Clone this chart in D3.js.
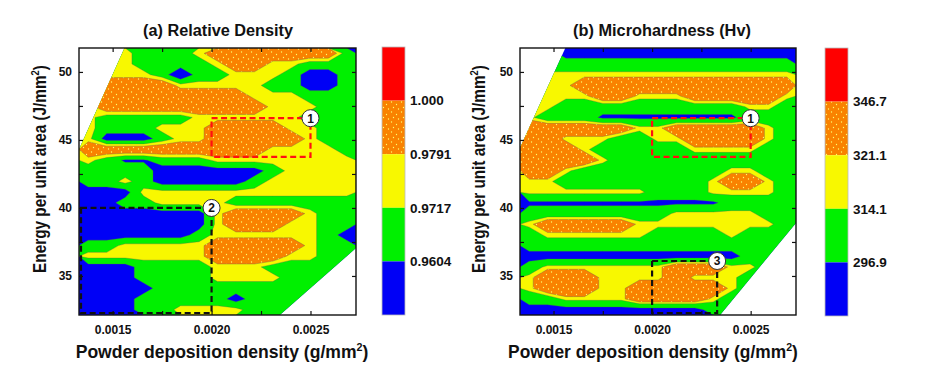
<!DOCTYPE html>
<html><head><meta charset="utf-8">
<script src="https://cdn.jsdelivr.net/npm/d3@7"></script>
<style>
body{margin:0;background:#fff}
text{font-family:"Liberation Sans",Arial,sans-serif;font-weight:bold;fill:#111}
</style>
</head><body>
<svg id="chart" width="933" height="374"></svg>
<script>
// ---------- data ----------
const xDomain = [0.00133, 0.00273];          // powder deposition density (g/mm2)
const yDomain = [32.13, 51.76];              // energy per unit area (J/mm2)
const xTickValues = [0.0015, 0.00175, 0.0020, 0.00225, 0.0025];
const xTickLabels = [0.0015, 0.0020, 0.0025];
const yTickValues = [35, 37.5, 40, 42.5, 45, 47.5, 50];
const yTickLabels = [35, 40, 45, 50];
// measured-region outlines (data coordinates)
const densityHullX = [0.00156, 0.00273, 0.00273, 0.002345, 0.00133, 0.00133];
const densityHullY = [51.76, 51.76, 37.05, 32.13, 32.13, 44.3];
const hardnessHullX = [0.00156, 0.00273, 0.00273, 0.002345, 0.00133, 0.00133];
const hardnessHullY = [51.76, 51.76, 38.9, 32.13, 32.13, 44.4];

const densityLevels = [0.9604, 0.9717, 0.9791, 1.000];
const densityLabels = ["1.000", "0.9791", "0.9717", "0.9604"];
const hardnessLevels = [296.9, 314.1, 321.1, 346.7];
const hardnessLabels = ["346.7", "321.1", "314.1", "296.9"];

// relative density grid, rows from top (high energy) to bottom, columns left to right
const densityGrid = [
[0.975,0.975,0.975,0.966,0.966,0.966,0.975,0.99,0.99,0.99,0.99,0.99,0.99,0.99,0.966],
[0.975,0.975,0.975,0.966,0.966,0.966,0.966,0.975,0.99,0.99,0.975,0.975,0.966,0.966,0.966],
[0.975,0.975,0.975,0.975,0.966,0.950,0.966,0.966,0.975,0.975,0.975,0.966,0.955,0.955,0.966],
[0.975,0.99,0.99,0.99,0.99,0.975,0.975,0.975,0.975,0.975,0.966,0.966,0.955,0.955,0.966],
[0.975,0.99,0.99,0.99,0.99,0.99,0.99,0.99,0.99,0.975,0.975,0.975,0.966,0.966,0.966],
[0.975,0.99,0.99,0.99,0.99,0.99,0.99,0.99,0.99,0.99,0.975,0.975,0.975,0.966,0.966],
[0.975,0.966,0.966,0.966,0.966,0.966,0.975,0.975,0.975,0.975,0.975,0.975,0.966,0.966,0.966],
[0.975,0.966,0.966,0.966,0.975,0.975,0.975,0.99,0.99,0.99,0.99,0.975,0.975,0.966,0.966],
[0.975,0.955,0.955,0.955,0.966,0.975,0.975,0.99,0.99,0.99,0.99,0.99,0.975,0.966,0.966],
[0.99,0.99,0.99,0.99,0.99,0.99,0.99,0.99,0.99,0.99,0.975,0.975,0.975,0.975,0.966],
[0.975,0.966,0.959,0.959,0.966,0.966,0.966,0.975,0.975,0.975,0.975,0.975,0.975,0.975,0.975],
[0.966,0.966,0.966,0.966,0.955,0.955,0.955,0.955,0.955,0.955,0.966,0.975,0.975,0.975,0.975],
[0.966,0.966,0.975,0.966,0.955,0.955,0.955,0.955,0.955,0.966,0.975,0.975,0.975,0.975,0.975],
[0.955,0.955,0.955,0.975,0.975,0.975,0.975,0.975,0.975,0.975,0.975,0.975,0.975,0.975,0.975],
[0.955,0.955,0.966,0.966,0.975,0.975,0.975,0.975,0.966,0.966,0.966,0.966,0.966,0.966,0.966],
[0.955,0.955,0.955,0.955,0.955,0.955,0.955,0.975,0.99,0.99,0.99,0.99,0.975,0.966,0.966],
[0.955,0.955,0.955,0.955,0.955,0.955,0.955,0.975,0.99,0.99,0.99,0.975,0.975,0.966,0.966],
[0.955,0.955,0.955,0.955,0.955,0.955,0.966,0.975,0.975,0.975,0.975,0.975,0.975,0.966,0.955],
[0.966,0.966,0.975,0.975,0.975,0.975,0.975,0.99,0.99,0.99,0.99,0.99,0.975,0.966,0.966],
[0.975,0.975,0.975,0.975,0.975,0.975,0.975,0.99,0.99,0.99,0.99,0.975,0.975,0.966,0.966],
[0.955,0.955,0.955,0.966,0.966,0.966,0.966,0.975,0.975,0.975,0.966,0.966,0.966,0.966,0.966],
[0.955,0.955,0.955,0.966,0.966,0.966,0.966,0.975,0.975,0.975,0.975,0.966,0.966,0.966,0.966],
[0.955,0.955,0.955,0.955,0.966,0.966,0.966,0.966,0.966,0.966,0.966,0.966,0.966,0.966,0.966],
[0.955,0.955,0.955,0.966,0.966,0.966,0.966,0.966,0.955,0.966,0.966,0.966,0.966,0.966,0.966],
[0.955,0.955,0.955,0.966,0.966,0.975,0.975,0.975,0.975,0.966,0.966,0.966,0.966,0.966,0.966]
];

// microhardness grid (Hv)
const hardnessGrid = [
[305,305,290,290,290,290,290,290,290,290,290,290,290,290,290],
[305,305,305,305,305,305,305,305,305,305,305,305,305,305,305],
[317.5,317.5,317.5,317.5,317.5,317.5,317.5,317.5,317.5,317.5,317.5,317.5,317.5,317.5,317.5],
[317.5,317.5,317.5,334,334,334,334,334,334,334,334,334,334,334,334],
[317.5,317.5,317.5,317.5,334,334,317.5,317.5,317.5,334,334,334,334,334,317.5],
[317.5,317.5,305,305,305,305,305,305,305,305,305,305,317.5,317.5,305],
[317.5,305,305,305,294,294,294,294,294,294,294,294,305,305,305],
[334,334,334,334,334,334,317.5,317.5,334,334,334,334,334,317.5,305],
[334,334,317.5,317.5,317.5,305,305,317.5,317.5,334,334,334,334,317.5,305],
[334,334,334,317.5,305,305,305,305,305,317.5,317.5,317.5,317.5,305,305],
[334,334,334,334,317.5,305,305,305,305,305,305,305,305,305,305],
[334,334,317.5,305,305,305,305,305,305,305,305,317.5,317.5,305,305],
[317.5,317.5,305,305,305,305,305,305,305,305,317.5,334,334,317.5,305],
[317.5,317.5,317.5,317.5,317.5,317.5,317.5,305,305,305,317.5,317.5,317.5,317.5,305],
[294,294,294,294,294,294,294,294,294,294,294,305,305,305,305],
[305,305,305,305,305,305,305,305,317.5,317.5,317.5,317.5,317.5,305,305],
[317.5,334,334,334,334,334,317.5,317.5,317.5,317.5,317.5,317.5,317.5,317.5,305],
[305,317.5,317.5,317.5,317.5,317.5,317.5,305,305,305,305,317.5,305,305,305],
[305,305,305,305,305,305,305,305,305,305,305,305,305,305,305],
[290,290,290,290,290,290,290,290,290,290,290,290,305,305,305],
[305,317.5,317.5,317.5,317.5,317.5,317.5,317.5,334,334,334,317.5,317.5,305,305],
[317.5,334,334,334,317.5,317.5,317.5,317.5,334,317.5,317.5,317.5,305,305,305],
[317.5,334,334,334,317.5,317.5,334,334,334,334,334,317.5,305,305,305],
[305,305,317.5,317.5,317.5,317.5,334,334,334,334,317.5,305,305,305,305],
[290,290,290,290,290,290,290,290,290,290,305,305,305,305,305]
];

// dashed regions of interest
const densityBoxes = [
  {x0: 0.0020, x1: 0.0025, y0: 43.75, y1: 46.6, color: "#ff1010", label: "1"},
  {x0: 0.00133, x1: 0.0020, y0: 32.13, y1: 40.0, color: "#111", label: "2"}
];
const hardnessBoxes = [
  {x0: 0.0020, x1: 0.0025, y0: 43.75, y1: 46.6, color: "#ff1010", label: "1"},
  {x0: 0.0020, x1: 0.00233, y0: 32.13, y1: 36.1, color: "#111", label: "3"}
];

const bandColors = ["#0000f6", "#00f000", "#f8f800", "url(#dots)", "#ff0000"];
const barColors  = ["#ff0000", "url(#dots)", "#f8f800", "#00f000", "#0000f6"];

// ---------- drawing ----------
const svg = d3.select("#chart");
const defs = svg.append("defs");
const pat = defs.append("pattern").attr("id", "dots").attr("patternUnits", "userSpaceOnUse")
  .attr("width", 10).attr("height", 10);
pat.append("rect").attr("width", 10).attr("height", 10).attr("fill", "#f98200");
[[1.5, 2], [6.5, 4.5], [3.5, 7.5], [8.5, 9]].forEach(p =>
  pat.append("circle").attr("cx", p[0]).attr("cy", p[1]).attr("r", 0.65).attr("fill", "#ffff70"));

function fitText(sel, target) {
  return target / sel.node().getComputedTextLength();
}

function panel(cfg) {
  const x = d3.scaleLinear().domain(xDomain).range([cfg.left, cfg.left + cfg.width]);
  const y = d3.scaleLinear().domain(yDomain).range([cfg.top + cfg.height, cfg.top]);
  const nRows = cfg.grid.length, nCols = cfg.grid[0].length;
  const gx = d3.scaleLinear().domain([0, nCols]).range(xDomain);
  const gy = d3.scaleLinear().domain([0, nRows]).range([yDomain[1], yDomain[0]]);
  const values = cfg.grid.flat();

  const clipId = "clip" + cfg.id;
  const hullPts = cfg.hullX.map((v, i) => [x(v), y(cfg.hullY[i])]);
  defs.append("clipPath").attr("id", clipId).append("polygon")
    .attr("points", hullPts.map(p => p.join(",")).join(" "));

  const g = svg.append("g").attr("clip-path", `url(#${clipId})`);
  g.append("rect").attr("x", cfg.left).attr("y", cfg.top).attr("width", cfg.width).attr("height", cfg.height)
    .attr("fill", bandColors[0]);

  const proj = d3.geoTransform({point(px, py) { this.stream.point(x(gx(px)), y(gy(py))); }});
  const path = d3.geoPath(proj);
  const contours = d3.contours().size([nCols, nRows]).thresholds(cfg.levels)(values);
  g.selectAll("path.band").data(contours).join("path").attr("class", "band")
    .attr("d", path)
    .attr("fill", (d, i) => bandColors[i + 1])
    .attr("stroke", "rgba(90,90,90,0.55)").attr("stroke-width", 0.6);

  svg.append("rect").attr("x", cfg.left).attr("y", cfg.top).attr("width", cfg.width).attr("height", cfg.height)
    .attr("fill", "none").attr("stroke", "#111").attr("stroke-width", 1.4);

  const fx = d3.format(".4f");
  const bottom = d3.axisBottom(x).tickValues(xTickValues).tickSize(-4).tickPadding(10)
    .tickFormat(d => xTickLabels.some(v => Math.abs(v - d) < 1e-9) ? fx(d) : "");
  const left = d3.axisLeft(y).tickValues(yTickValues).tickSize(-4).tickPadding(7)
    .tickFormat(d => yTickLabels.includes(d) ? d : "");
  const top = d3.axisTop(x).tickValues(xTickValues).tickSize(-4).tickFormat("");
  const right = d3.axisRight(y).tickValues(yTickValues).tickSize(-4).tickFormat("");
  [[bottom, `translate(0,${cfg.top + cfg.height})`], [left, `translate(${cfg.left},0)`],
   [top, `translate(0,${cfg.top})`], [right, `translate(${cfg.left + cfg.width},0)`]].forEach(([ax, tr]) => {
    const a = svg.append("g").attr("transform", tr).call(ax);
    a.select(".domain").remove();
    a.selectAll("line").attr("stroke", "#111").attr("stroke-width", 1.2);
    a.selectAll("text").attr("font-size", 12).attr("font-family", null).style("font-weight", "bold").attr("fill", "#111");
  });

  cfg.boxes.forEach(b => {
    const x0 = Math.max(x(b.x0), cfg.left + 2), x1 = x(b.x1);
    const y0 = Math.min(y(b.y0), cfg.top + cfg.height - 2), y1 = y(b.y1);
    svg.append("rect").attr("x", x0).attr("y", y1).attr("width", x1 - x0).attr("height", y0 - y1)
      .attr("fill", "none").attr("stroke", b.color).attr("stroke-width", 2.2).attr("stroke-dasharray", "6,3.5");
    svg.append("circle").attr("cx", x1).attr("cy", y1).attr("r", 8.5)
      .attr("fill", "#fff").attr("stroke", "#333").attr("stroke-width", 1);
    svg.append("text").attr("x", x1).attr("y", y1).attr("dy", "0.36em").attr("text-anchor", "middle")
      .attr("font-size", 12).text(b.label);
  });

  const cb = d3.scaleLinear().domain([0, 5]).range([cfg.cbTop, cfg.cbBottom]);
  svg.selectAll(null).data(barColors).join("rect")
    .attr("x", cfg.cbX).attr("width", cfg.cbW)
    .attr("y", (d, i) => cb(i)).attr("height", (d, i) => cb(i + 1) - cb(i))
    .attr("fill", d => d);
  svg.append("rect").attr("x", cfg.cbX).attr("y", cb(0)).attr("width", cfg.cbW).attr("height", cb(5) - cb(0))
    .attr("fill", "none").attr("stroke", "#bbb").attr("stroke-width", 0.8);
  svg.selectAll(null).data(cfg.labels).join("text")
    .attr("x", cfg.cbX + cfg.cbW + 5).attr("y", (d, i) => cb(i + 1)).attr("dy", "0.36em")
    .attr("font-size", 13.5).text(d => d);

  const t = svg.append("text").attr("text-anchor", "middle").attr("font-size", 16).text(cfg.title);
  const st = fitText(t, cfg.titleW);
  t.attr("transform", `translate(${cfg.titleX},36) scale(${st},1)`);

  const xl = svg.append("text").attr("text-anchor", "middle").attr("font-size", 18);
  xl.append("tspan").text("Powder deposition density (g/mm");
  xl.append("tspan").attr("font-size", 11).attr("dy", -7).text("2");
  xl.append("tspan").attr("dy", 7).text(")");
  const sx = fitText(xl, cfg.xlabW);
  xl.attr("transform", `translate(${cfg.xlabX},358) scale(${sx},1)`);

  const yl = svg.append("text").attr("text-anchor", "middle").attr("font-size", 18);
  yl.append("tspan").text("Energy per unit area (J/mm");
  yl.append("tspan").attr("font-size", 11).attr("dy", -7).text("2");
  yl.append("tspan").attr("dy", 7).text(")");
  const sy = fitText(yl, 208);
  yl.attr("transform", `translate(${cfg.ylabX},169) rotate(-90) scale(${sy},1)`);
}

panel({id: "a", left: 79, top: 48, width: 277, height: 267, grid: densityGrid, levels: densityLevels,
  hullX: densityHullX, hullY: densityHullY,
  labels: densityLabels, boxes: densityBoxes, cbX: 382, cbW: 23, cbTop: 47, cbBottom: 315,
  title: "(a) Relative Density", titleX: 218, titleW: 150, xlabX: 222, xlabW: 293, ylabX: 46});
panel({id: "b", left: 520, top: 48, width: 276, height: 267, grid: hardnessGrid, levels: hardnessLevels,
  hullX: hardnessHullX, hullY: hardnessHullY,
  labels: hardnessLabels, boxes: hardnessBoxes, cbX: 825, cbW: 23, cbTop: 48, cbBottom: 316,
  title: "(b) Microhardness (Hv)", titleX: 662, titleW: 178, xlabX: 653, xlabW: 290, ylabX: 485});
</script>
</body></html>
